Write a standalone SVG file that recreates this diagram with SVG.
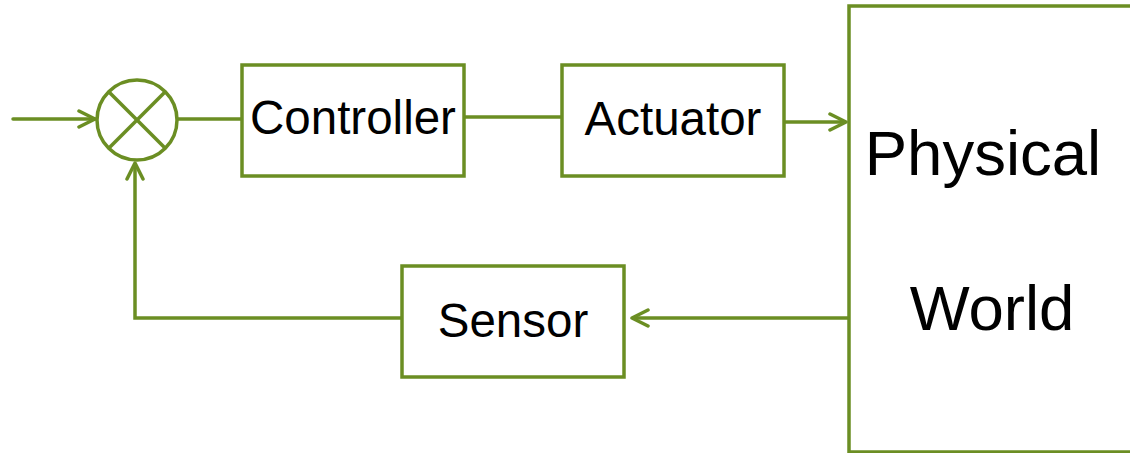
<svg xmlns="http://www.w3.org/2000/svg" width="1130" height="453" viewBox="0 0 1130 453">
<defs>
<style>
.box{fill:#fff;stroke:#6B8E23;stroke-width:3.5}
.ln{fill:none;stroke:#6B8E23;stroke-width:3.5}
.t{font-family:"Liberation Sans",Arial,sans-serif;font-size:47.5px;fill:#000;text-anchor:middle}
.tb{font-family:"Liberation Sans",Arial,sans-serif;font-size:63.5px;fill:#000;text-anchor:middle}
</style>
<marker id="ah" viewBox="0 0 20 20" refX="18" refY="10" markerWidth="20" markerHeight="20" markerUnits="userSpaceOnUse" orient="auto">
<path d="M2,2 L18,10 L2,18" fill="none" stroke="#6B8E23" stroke-width="3.5" stroke-linecap="round" stroke-linejoin="round"/>
</marker>
</defs>
<rect width="1130" height="453" fill="#fff"/>
<g id="connectors">
<line class="ln" x1="13" y1="119" x2="95" y2="119" stroke-linecap="round" marker-end="url(#ah)"/>
<line class="ln" x1="177" y1="119" x2="242" y2="119"/>
<line class="ln" x1="464" y1="117" x2="563" y2="117"/>
<line class="ln" x1="783" y1="122" x2="846" y2="122" marker-end="url(#ah)"/>
<line class="ln" x1="849" y1="318" x2="632" y2="318" marker-end="url(#ah)"/>
<polyline class="ln" points="403,318 135,318 135,163" marker-end="url(#ah)"/>
</g>
<g id="sum">
<circle class="ln" cx="137" cy="120" r="40"/>
<line class="ln" x1="109" y1="92" x2="165" y2="148"/>
<line class="ln" x1="165" y1="92" x2="109" y2="148"/>
</g>
<g id="controller">
<rect class="box" x="242" y="65" width="222" height="111"/>
<text class="t" x="353" y="134">Controller</text>
</g>
<g id="actuator">
<rect class="box" x="562" y="65" width="222" height="111"/>
<text class="t" x="673" y="135">Actuator</text>
</g>
<g id="sensor">
<rect class="box" x="402" y="266" width="222" height="111"/>
<text class="t" x="513" y="337">Sensor</text>
</g>
<g id="physical-world">
<rect class="box" x="849" y="6" width="300" height="446"/>
<text class="tb" x="983" y="175">Physical</text>
<text class="tb" x="992" y="330">World</text>
</g>
</svg>
